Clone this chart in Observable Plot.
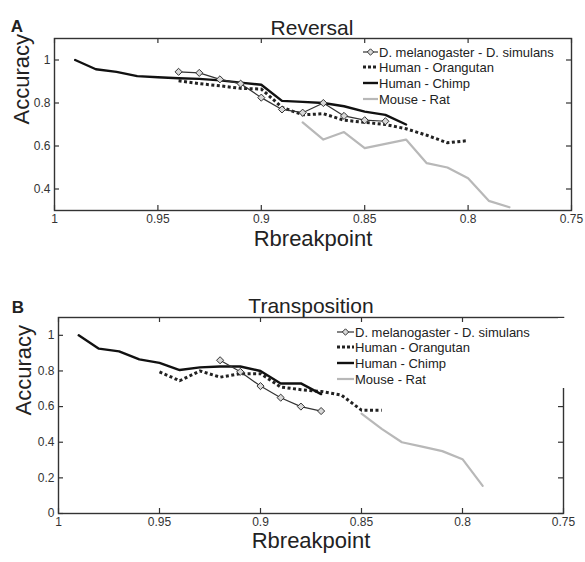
<!DOCTYPE html>
<html><head><meta charset="utf-8">
<script src="https://cdn.jsdelivr.net/npm/d3@7"></script>
<script src="https://cdn.jsdelivr.net/npm/@observablehq/plot@0.6"></script>
<style>
body{margin:0;background:#fff}
#wrap{position:relative;width:585px;height:562px;font-family:"Liberation Sans",Arial,sans-serif}
#wrap svg{display:block}
#overlay{position:absolute;left:0;top:0;pointer-events:none}
</style>
</head><body><div id="wrap"></div>
<script>
// ---- tick labels ----
const xTicks = [1, 0.95, 0.9, 0.85, 0.8, 0.75];
const yTicksA = [0.4, 0.6, 0.8, 1];
const yTicksB = [0, 0.2, 0.4, 0.6, 0.8, 1];
const seriesNames = ["D. melanogaster - D. simulans", "Human - Orangutan", "Human - Chimp", "Mouse - Rat"];

// ---- Panel A: Reversal ----
const revDrosX = [0.94, 0.93, 0.92, 0.91, 0.90, 0.89, 0.88, 0.87, 0.86, 0.85, 0.84];
const revDrosY = [0.945, 0.94, 0.91, 0.89, 0.825, 0.77, 0.755, 0.80, 0.74, 0.72, 0.715];
const revOrangX = [0.94, 0.93, 0.92, 0.91, 0.90, 0.89, 0.88, 0.87, 0.86, 0.85, 0.84, 0.83, 0.82, 0.81, 0.80];
const revOrangY = [0.903, 0.89, 0.88, 0.868, 0.865, 0.78, 0.745, 0.75, 0.72, 0.71, 0.70, 0.68, 0.65, 0.615, 0.625];
const revChimpX = [0.99, 0.98, 0.97, 0.96, 0.95, 0.94, 0.93, 0.92, 0.91, 0.90, 0.89, 0.88, 0.87, 0.86, 0.85, 0.84, 0.83];
const revChimpY = [1.0, 0.957, 0.945, 0.925, 0.92, 0.915, 0.912, 0.905, 0.895, 0.885, 0.81, 0.805, 0.80, 0.785, 0.76, 0.745, 0.70];
const revMouseX = [0.88, 0.87, 0.86, 0.85, 0.84, 0.83, 0.82, 0.81, 0.80, 0.79, 0.78];
const revMouseY = [0.71, 0.63, 0.665, 0.59, 0.61, 0.63, 0.52, 0.50, 0.45, 0.345, 0.315];

// ---- Panel B: Transposition ----
const trDrosX = [0.92, 0.91, 0.90, 0.89, 0.88, 0.87];
const trDrosY = [0.86, 0.795, 0.715, 0.65, 0.60, 0.575];
const trOrangX = [0.95, 0.94, 0.93, 0.92, 0.91, 0.90, 0.89, 0.88, 0.87, 0.86, 0.85, 0.84];
const trOrangY = [0.795, 0.745, 0.80, 0.765, 0.785, 0.785, 0.71, 0.695, 0.685, 0.665, 0.58, 0.58];
const trChimpX = [0.99, 0.98, 0.97, 0.96, 0.95, 0.94, 0.93, 0.92, 0.91, 0.90, 0.89, 0.88, 0.87];
const trChimpY = [1.0, 0.925, 0.91, 0.865, 0.845, 0.805, 0.82, 0.825, 0.825, 0.80, 0.73, 0.73, 0.67];
const trMouseX = [0.85, 0.84, 0.83, 0.82, 0.81, 0.80, 0.79];
const trMouseY = [0.56, 0.475, 0.40, 0.375, 0.35, 0.305, 0.155];

const rows = (xs, ys) => xs.map((x, i) => ({x, y: ys[i]}));
const FONT = "'Liberation Sans', Arial, Helvetica, sans-serif";

function panel(o) {
  const W = o.width - o.ml - o.mr, H = o.height - o.mt - o.mb;
  return Plot.plot({
    width: o.width, height: o.height,
    marginTop: o.mt, marginBottom: o.mb, marginLeft: o.ml, marginRight: o.mr,
    x: {domain: [1, 0.75]},
    y: {domain: o.yDomain},
    style: {fontFamily: FONT, background: "white", overflow: "visible"},
    marks: [
      Plot.frame({stroke: "#333", strokeWidth: 1.4}),
      Plot.tickX(xTicks, {x: d => d, insetTop: H - 5, stroke: "#333", strokeWidth: 1.2}),
      Plot.tickX(xTicks, {x: d => d, insetBottom: H - 5, stroke: "#333", strokeWidth: 1.2}),
      Plot.tickY(o.yTicks, {y: d => d, insetRight: W - 5, stroke: "#333", strokeWidth: 1.2}),
      Plot.tickY(o.yTicks, {y: d => d, insetLeft: W - 5, stroke: "#333", strokeWidth: 1.2}),
      Plot.axisX(xTicks, {tickSize: 0, tickPadding: 4, fontSize: 12, fill: "#333", label: null, tickFormat: d => String(d)}),
      Plot.axisY(o.yTicks, {tickSize: 0, tickPadding: 4, fontSize: 12, fill: "#333", label: null, tickFormat: d => String(d)}),
      Plot.line(o.mouse, {x: "x", y: "y", stroke: "#b8b8b8", strokeWidth: 2.2}),
      Plot.line(o.orang, {x: "x", y: "y", stroke: "#222", strokeWidth: 3, strokeDasharray: "3,2.5", strokeLinecap: "butt", strokeLinejoin: "miter"}),
      Plot.line(o.chimp, {x: "x", y: "y", stroke: "#111", strokeWidth: 2.4}),
      Plot.line(o.dros, {x: "x", y: "y", stroke: "#333", strokeWidth: 1.2}),
      Plot.dot(o.dros, {x: "x", y: "y", symbol: "diamond2", r: 3.2, fill: "#d8d8d8", stroke: "#333", strokeWidth: 1}),
      Plot.text([o.title], {frameAnchor: "top", dx: o.titleDx, dy: o.titleDy, fontSize: 21, fill: "#222"}),
      Plot.text([o.letter], {frameAnchor: "top-left", dx: o.letterDx, dy: o.letterDy, fontSize: 17, fontWeight: "bold", fill: "#222", textAnchor: "middle"}),
      Plot.text(["Rbreakpoint"], {frameAnchor: "bottom", dy: o.xlabDy, fontSize: 22, fill: "#222"}),
      Plot.text(["Accuracy"], {frameAnchor: "left", dx: o.ylabDx, rotate: -90, fontSize: 22, fill: "#222"})
    ]
  });
}

const wrap = document.getElementById("wrap");
wrap.appendChild(panel({
  width: 585, height: 280, mt: 38, mb: 70, ml: 54, mr: 14,
  yDomain: [0.3, 1.1], yTicks: yTicksA,
  dros: rows(revDrosX, revDrosY), orang: rows(revOrangX, revOrangY),
  chimp: rows(revChimpX, revChimpY), mouse: rows(revMouseX, revMouseY),
  title: "Reversal", titleDx: -1, titleDy: -18,
  letter: "A", letterDx: -37.5, letterDy: -19,
  xlabDy: 35, ylabDx: -33
}));
wrap.appendChild(panel({
  width: 585, height: 282, mt: 37, mb: 49, ml: 58, mr: 22,
  yDomain: [0, 1.1], yTicks: yTicksB,
  dros: rows(trDrosX, trDrosY), orang: rows(trOrangX, trOrangY),
  chimp: rows(trChimpX, trChimpY), mouse: rows(trMouseX, trMouseY),
  title: "Transposition", titleDx: 0, titleDy: -19,
  letter: "B", letterDx: -40.5, letterDy: -17,
  xlabDy: 34, ylabDx: -35
}));

// ---- legends (overlay) ----
const svg = d3.select(wrap).append("svg").attr("id", "overlay")
  .attr("width", 585).attr("height", 562).style("font-family", FONT);
// legend box hides part of the right frame in panel B
svg.append("rect").attr("x", 558).attr("y", 318).attr("width", 10).attr("height", 70).attr("fill", "white");

function legend(x0, x1, ys) {
  const styles = [
    {stroke: "#333", width: 1.2, dash: null, diamond: true},
    {stroke: "#222", width: 3, dash: "3,2"},
    {stroke: "#111", width: 2.4, dash: null},
    {stroke: "#b8b8b8", width: 2.2, dash: null}
  ];
  seriesNames.forEach((name, i) => {
    const s = styles[i], y = ys[i];
    const l = svg.append("line").attr("x1", x0).attr("x2", x1).attr("y1", y).attr("y2", y)
      .attr("stroke", s.stroke).attr("stroke-width", s.width);
    if (s.dash) l.attr("stroke-dasharray", s.dash);
    if (s.diamond) {
      const cx = (x0 + x1) / 2, r = 3.2;
      svg.append("path").attr("d", `M${cx},${y - r}L${cx + r},${y}L${cx},${y + r}L${cx - r},${y}Z`)
        .attr("fill", "#d8d8d8").attr("stroke", "#333");
    }
    svg.append("text").attr("x", x1 + 1).attr("y", y).attr("dy", "0.35em")
      .attr("font-size", 13).attr("fill", "#222").text(name);
  });
}
legend(363, 378, [52, 67, 83, 99]);
legend(337, 354, [332, 347, 363, 379]);
</script>
</body></html>
